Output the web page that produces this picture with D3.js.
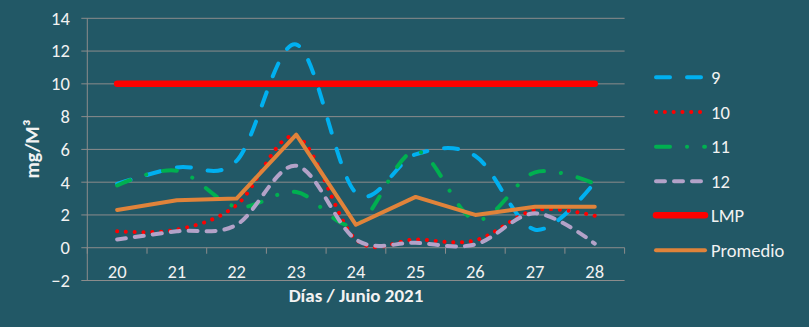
<!DOCTYPE html>
<html>
<head>
<meta charset="utf-8">
<script src="https://cdn.jsdelivr.net/npm/d3@7/dist/d3.min.js"></script>
<style>
  html, body { margin: 0; padding: 0; background: #225866; }
  svg { display: block; }
  text { font-family: Carlito, Lato, "Open Sans", sans-serif; fill: #F2F2F2; }
</style>
</head>
<body>
<svg id="chart" width="809" height="327"></svg>
<script>
// ---- data ----
const categories = ["20", "21", "22", "23", "24", "25", "26", "27", "28"];
const s9        = [3.9, 4.9, 5.3, 12.4, 3.35, 5.7, 5.6, 1.1, 4.0];
const s10       = [1.0, 1.1, 2.6, 6.8, 0.5, 0.5, 0.45, 2.3, 1.95];
const s11       = [3.8, 4.7, 2.5, 3.4, 1.4, 5.9, 1.7, 4.6, 3.9];
const s12       = [0.5, 1.0, 1.4, 5.0, 0.5, 0.3, 0.2, 2.1, 0.25];
const lmp       = [10, 10, 10, 10, 10, 10, 10, 10, 10];
const promedio  = [2.3, 2.9, 3.0, 6.9, 1.4, 3.1, 2.0, 2.5, 2.5];
const yTicks    = [-2, 0, 2, 4, 6, 8, 10, 12, 14];
const seriesNames = ["9", "10", "11", "12", "LMP", "Promedio"];
const xTitle = "Días / Junio 2021";
const yTitle = "mg/M³";

// ---- styles ----
const styles = {
  "9":        { color: "#00B0F0", width: 4, dash: "14,17", smooth: true },
  "10":       { color: "#FF0000", width: 4, dash: "0.1,8.7", smooth: true },
  "11":       { color: "#00B050", width: 4, dash: "14,17,0.1,17", smooth: true },
  "12":       { color: "#B3A2C8", width: 4, dash: "9,9", smooth: true },
  "LMP":      { color: "#FF0000", width: 6.5, dash: null, smooth: false },
  "Promedio": { color: "#E0833A", width: 4, dash: null, smooth: false }
};
const seriesData = { "9": s9, "10": s10, "11": s11, "12": s12, "LMP": lmp, "Promedio": promedio };

const svg = d3.select("#chart");
const pLeft = 87.3, pRight = 624.6, pTop = 18.3, pBottom = 280.5;
const fontSize = "18.5px";

const x = d3.scaleBand().domain(categories).range([pLeft, pRight]);
const y = d3.scaleLinear().domain([-2, 14]).range([pBottom, pTop]);
const cx = c => x(c) + x.bandwidth() / 2;
const gridColor = "#8C8C8C";

// gridlines
svg.append("g").selectAll("line").data(yTicks).join("line")
  .attr("x1", pLeft - 6).attr("x2", pRight)
  .attr("y1", d => y(d)).attr("y2", d => y(d))
  .attr("stroke", gridColor).attr("stroke-width", 1);

// y axis labels
const yAxis = svg.append("g").attr("transform", `translate(${pLeft},0)`)
  .call(d3.axisLeft(y).tickValues(yTicks).tickSize(0).tickPadding(17.5).tickFormat(d3.format("d")));
yAxis.select(".domain").remove();
yAxis.selectAll("text").style("font-size", fontSize).attr("fill", "#F2F2F2")
  .style("font-family", "Carlito, Lato, 'Open Sans', sans-serif");

// y axis line
svg.append("line").attr("x1", pLeft).attr("x2", pLeft).attr("y1", pTop).attr("y2", pBottom)
  .attr("stroke", gridColor).attr("stroke-width", 1);

// x axis at 0 with ticks at band boundaries
const y0 = y(0);
const boundaries = categories.map(c => x(c)).concat([pRight]);
svg.append("g").selectAll("line").data(boundaries).join("line")
  .attr("x1", d => d).attr("x2", d => d).attr("y1", y0).attr("y2", y0 + 6)
  .attr("stroke", gridColor).attr("stroke-width", 1);

// x labels
svg.append("g").selectAll("text").data(categories).join("text")
  .attr("x", d => cx(d)).attr("y", 278).attr("text-anchor", "middle")
  .style("font-size", fontSize).text(d => d);

// titles
svg.append("text").attr("x", 356).attr("y", 302).attr("text-anchor", "middle")
  .style("font-size", "19px").style("font-weight", "bold").text(xTitle);
svg.append("text").attr("transform", "translate(39,149) rotate(-90)").attr("text-anchor", "middle")
  .style("font-size", "20px").style("font-weight", "bold").text(yTitle);

// series
const drawOrder = ["9", "10", "11", "12", "LMP", "Promedio"];
drawOrder.forEach(name => {
  const st = styles[name];
  const vals = seriesData[name];
  const line = d3.line()
    .x((d, i) => cx(categories[i]))
    .y(d => y(d))
    .curve(st.smooth ? d3.curveCatmullRom.alpha(0) : d3.curveLinear);
  svg.append("path").datum(vals)
    .attr("d", line)
    .attr("fill", "none")
    .attr("stroke", st.color)
    .attr("stroke-width", st.width)
    .attr("stroke-linecap", "round")
    .attr("stroke-linejoin", "round")
    .attr("stroke-dasharray", st.dash);
});

// legend
const legendY = [77.3, 112, 146.7, 181.3, 215.3, 250.3];
const lg = svg.append("g");
seriesNames.forEach((name, i) => {
  const st = styles[name];
  lg.append("line").attr("x1", 656).attr("x2", 705).attr("y1", legendY[i]).attr("y2", legendY[i])
    .attr("stroke", st.color).attr("stroke-width", st.width)
    .attr("stroke-linecap", "round").attr("stroke-dasharray", st.dash);
  lg.append("text").attr("x", 711).attr("y", legendY[i] + 6.5)
    .style("font-size", fontSize).text(name);
});
</script>
</body>
</html>
